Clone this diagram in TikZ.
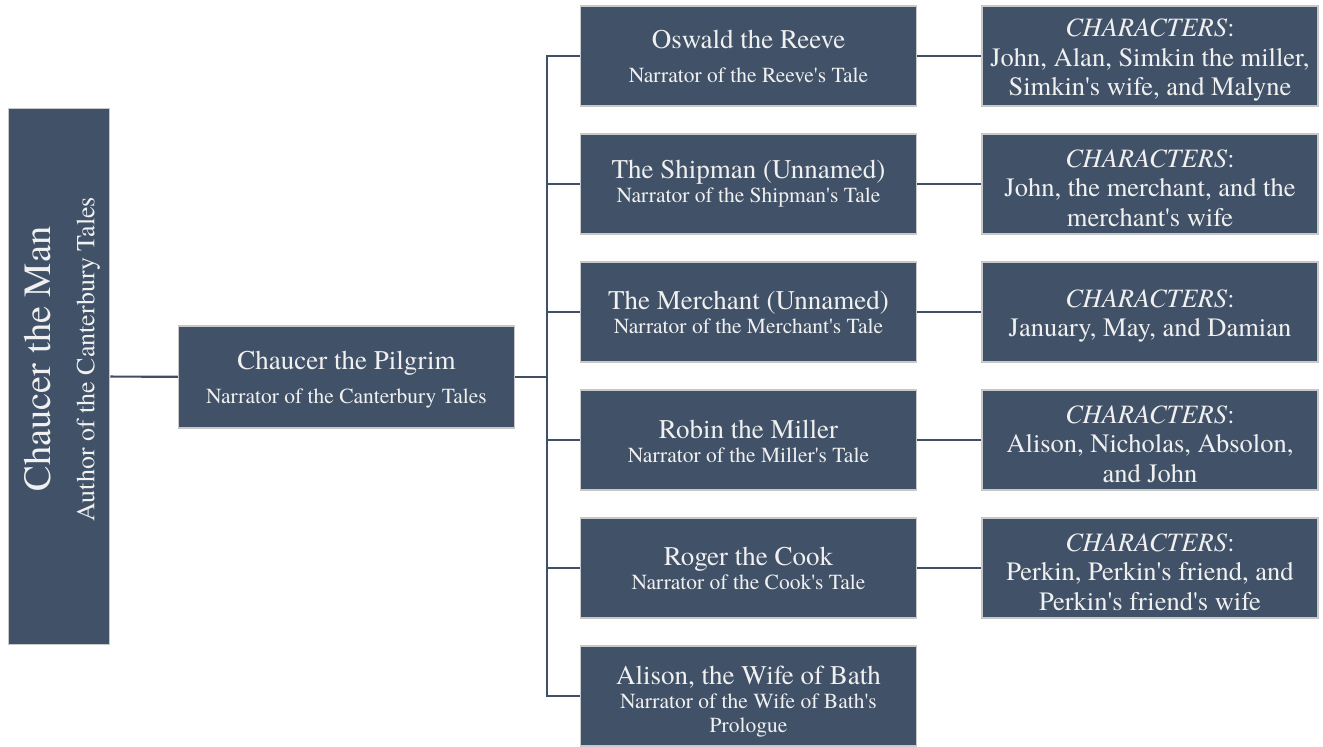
\documentclass[tikz,border=0pt]{standalone}
\usepackage{fontspec}
\setmainfont{texgyretermes}[Extension=.otf, UprightFont=*-regular, ItalicFont=*-italic, BoldFont=*-bold, BoldItalicFont=*-bolditalic]
\usetikzlibrary{positioning}
\definecolor{slate}{RGB}{65,82,104}
\definecolor{rim}{RGB}{200,200,200}
\definecolor{wire}{RGB}{62,79,102}
\newcommand{\q}{\textquotesingle}
\newcommand{\topgap}[1]{\rule{0pt}{#1}}
\newcommand{\whofont}{\fontsize{27}{24}\selectfont}
\newcommand{\rolefont}{\fontsize{21.5}{24}\selectfont}
\newcommand{\castline}{\topgap{26pt}\textit{CHARACTERS}:}
\tikzstyle{tale} = [fill=slate, draw=rim, line width=1.5pt, text=white!94!black, align=center, minimum width=336pt, minimum height=100pt, inner sep=4pt, font=\whofont]
\tikzstyle{cast} = [tale, right=64pt of #1, font=\fontsize{26.5}{29.5}\selectfont]
\tikzstyle{link} = [draw=wire, line width=2.2pt]

\begin{document}
\begin{tikzpicture}[x=1pt,y=-1pt]
\useasboundingbox (0,0) rectangle (1323,747);
\node[tale, minimum width=101pt, minimum height=536pt] (man) at (59,376.5) {};
\node[rotate=90, align=center, text=white!94!black, font=\fontsize{38.5}{44}\selectfont] (mantag) at (62,359) {Chaucer the Man\\{\fontsize{26}{30}\selectfont Author of the Canterbury Tales}};
\node[tale, minimum height=102pt] (pilgrim) at (346.5,377) {\topgap{24pt}Chaucer the Pilgrim\\[10pt]{\rolefont Narrator of the Canterbury Tales}};
% narrators
\node[tale] (m1) at (748.5,56) {Oswald the Reeve\\[10pt]{\rolefont Narrator of the Reeve\q s Tale}};
\node[tale, below=26.5pt of m1] (m2) {The Shipman (Unnamed)\\{\rolefont Narrator of the Shipman\q s Tale}};
\node[tale, below=26.5pt of m2] (m3) {The Merchant (Unnamed)\\{\rolefont Narrator of the Merchant\q s Tale}};
\node[tale, below=26.5pt of m3] (m4) {\topgap{22pt}Robin the Miller\\{\rolefont Narrator of the Miller\q s Tale}};
\node[tale, below=26.5pt of m4] (m5) {Roger the Cook\\{\rolefont Narrator of the Cook\q s Tale}};
\node[tale, below=26.5pt of m5] (m6) {\topgap{30pt}Alison, the Wife of Bath\\{\rolefont Narrator of the Wife of Bath\q s}\\{\rolefont Prologue}};
% characters
\node[cast=m1] (c1) {\castline\\John, Alan, Simkin the miller,\\Simkin\q s wife, and Malyne};
\node[cast=m2] (c2) {\castline\\John, the merchant, and the\\merchant\q s wife};
\node[cast=m3] (c3) {\castline\\January, May, and Damian};
\node[cast=m4] (c4) {\castline\\Alison, Nicholas, Absolon,\\and John};
\node[cast=m5] (c5) {\castline\\Perkin, Perkin\q s friend, and\\Perkin\q s friend\q s wife};
\coordinate (fork) at (547,377);
\draw[link] (man) -- (pilgrim);
\draw[link] (pilgrim) -- (fork);
\foreach \i in {1,...,6}
  \draw[link] (fork) |- (m\i.west);
\foreach \i in {1,...,5}
  \draw[link] (m\i) -- (c\i);
\end{tikzpicture}
\end{document}
